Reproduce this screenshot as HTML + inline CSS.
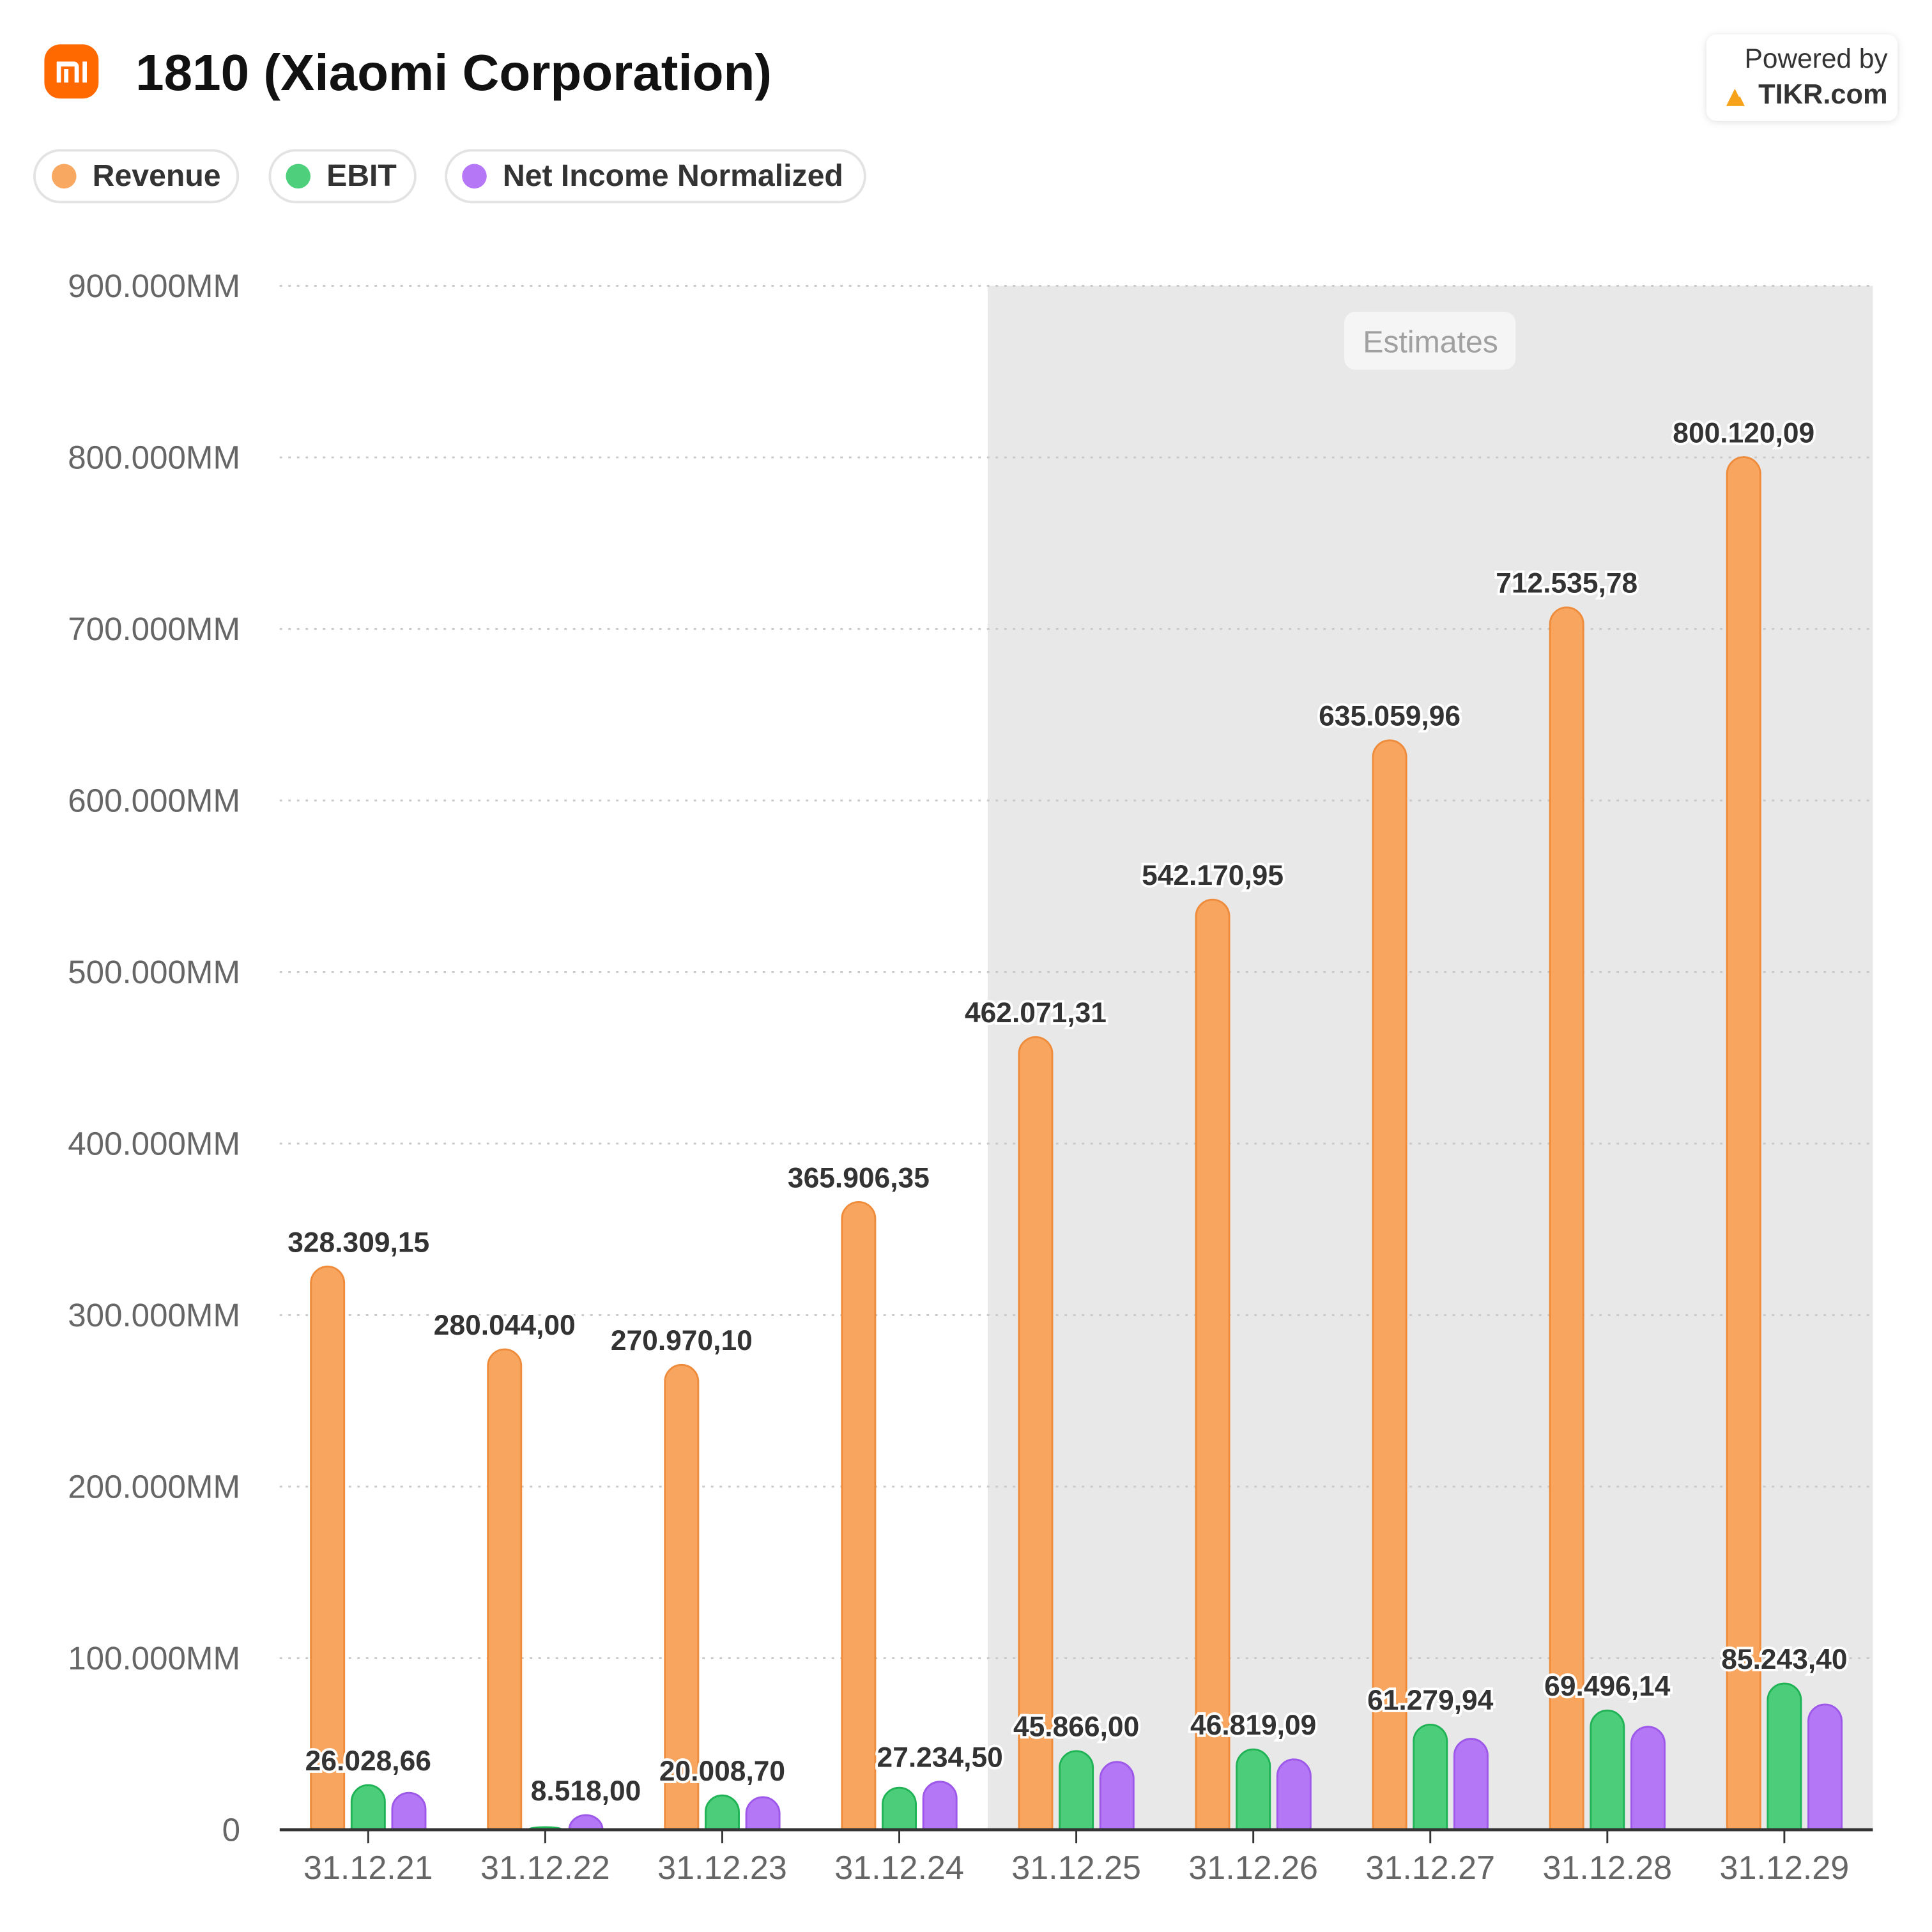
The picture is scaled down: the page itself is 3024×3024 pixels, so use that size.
<!DOCTYPE html>
<html><head><meta charset="utf-8"><style>
html,body{margin:0;padding:0;background:#fff;}
svg{display:block;font-family:"Liberation Sans",Arial,sans-serif;}
</style></head><body>
<svg id="chart" width="3024" height="3024" viewBox="0 0 1568 1568" xmlns="http://www.w3.org/2000/svg">
<defs><filter id="sh" x="-20%" y="-20%" width="140%" height="140%"><feDropShadow dx="0" dy="1" stdDeviation="3" flood-color="#000" flood-opacity="0.12"/></filter></defs>
<rect width="1568" height="1568" fill="#fff"/>
<g>
<rect x="36" y="36" width="44" height="44" rx="13" fill="#ff6900"/>
<path d="M46 50 h14 a4 4 0 0 1 4 4 v13 h-3.5 v-13 h-11 v13 h-3.5z M52 56 h3.5 v11 h-3.5z M67 50 h3.5 v17 h-3.5z" fill="#fff"/>
</g>
<text x="110" y="73" font-size="41.5" font-weight="bold" fill="#111">1810 (Xiaomi Corporation)</text>
<g>
<rect x="1385" y="28" width="155" height="70" rx="8" fill="#fff" filter="url(#sh)"/>
<text x="1532" y="55" font-size="22" fill="#333" text-anchor="end">Powered by</text>
<path d="M1401 86 l7 -14 l7 14 z M1408 86 l4 -8 l4 8z" fill="#f7a21b"/>
<text x="1532" y="84" font-size="22.5" font-weight="bold" fill="#333" text-anchor="end">TIKR.com</text>
</g>
<g>
<rect x="28" y="122" width="165" height="42" rx="21" fill="#fff" stroke="#e3e3e3" stroke-width="2"/>
<circle cx="52" cy="143" r="10" fill="#f9a862"/>
<text x="75" y="151" font-size="25" font-weight="bold" fill="#333">Revenue</text>
</g>
<g>
<rect x="219" y="122" width="118" height="42" rx="21" fill="#fff" stroke="#e3e3e3" stroke-width="2"/>
<circle cx="242" cy="143" r="10" fill="#4dcf7b"/>
<text x="265" y="151" font-size="25" font-weight="bold" fill="#333">EBIT</text>
</g>
<g>
<rect x="362" y="122" width="340" height="42" rx="21" fill="#fff" stroke="#e3e3e3" stroke-width="2"/>
<circle cx="385" cy="143" r="10" fill="#b577f6"/>
<text x="408" y="151" font-size="25" font-weight="bold" fill="#333">Net Income Normalized</text>
</g>
<g id="plot"></g>
</svg>
<script>
const categories=["31.12.21","31.12.22","31.12.23","31.12.24","31.12.25","31.12.26","31.12.27","31.12.28","31.12.29"];
const revenue=[328309.15,280044.00,270970.10,365906.35,462071.31,542170.95,635059.96,712535.78,800120.09];
const ebit=[26028.66,1500,20008.70,24500,45866.00,46819.09,61279.94,69496.14,85243.40];
const netIncome=[21500,8518.00,19000,28000,39500,41000,53000,60000,73000];
const revenueLabels=["328.309,15","280.044,00","270.970,10","365.906,35","462.071,31","542.170,95","635.059,96","712.535,78","800.120,09"];
const ebitLabels=["26.028,66","8.518,00","20.008,70","27.234,50","45.866,00","46.819,09","61.279,94","69.496,14","85.243,40"];
const yTicks=[0,100000,200000,300000,400000,500000,600000,700000,800000,900000];
const yTickLabels=["0","100.000MM","200.000MM","300.000MM","400.000MM","500.000MM","600.000MM","700.000MM","800.000MM","900.000MM"];
const estimateStart=4;

const NS="http://www.w3.org/2000/svg";
const g=document.getElementById('plot');
const X0=227,X1=1520,Y0=1485,Y1=232,YMAX=900000;
const band=(X1-X0)/categories.length;
const y=v=>Y0-(v/YMAX)*(Y0-Y1);
const xc=i=>X0+band*(i+0.5);
function el(t,a,p){const e=document.createElementNS(NS,t);for(const k in a)e.setAttribute(k,a[k]);(p||g).appendChild(e);return e;}

const shade=el('rect',{x:X0+band*estimateStart,y:Y1,width:X1-(X0+band*estimateStart),height:Y0-Y1,fill:'#e8e8e8'});


const eb=el('rect',{x:1091,y:253,width:139,height:47,rx:9,fill:'#f5f5f5'});


const et=el('text',{x:1161,y:286,'font-size':25,fill:'#a0a0a0','text-anchor':'middle'});
et.textContent='Estimates';



yTicks.forEach((v,i)=>{
  if(v>0){const l=el('line',{x1:X0,x2:X1,y1:y(v),y2:y(v),stroke:'#c8c8c8','stroke-width':1.5,'stroke-dasharray':'2 5'});
  
  }
  const t=el('text',{x:195,y:y(v)+9,'font-size':26.5,fill:'#666','text-anchor':'end'});
  t.textContent=yTickLabels[i];
  
  
});

function bar(cx,v,fill,stroke,name){
  const w=27,r=13.5,x=cx-w/2,top=y(v),h=Y0-top;
  let d;
  if(h>=r) d=`M${x} ${Y0} V${top+r} A${r} ${r} 0 0 1 ${x+w} ${top+r} V${Y0} Z`;
  else { const rr=Math.max(h,0.5); d=`M${x} ${Y0} A${w/2} ${rr} 0 0 1 ${x+w} ${Y0} Z`; }
  const p=el('path',{d:d,fill:fill,stroke:stroke,'stroke-width':1.5});
  
  
}
function label(cx,yy,txt,name){
  const hw=txt.length*6.4;
  if(cx-hw<X0) cx=X0+hw;
  const t=el('text',{x:cx,y:yy,'font-size':23,'font-weight':'bold',fill:'#333','text-anchor':'middle',stroke:'#fff','stroke-width':4,'paint-order':'stroke'});
  t.textContent=txt;
  
  
}
categories.forEach((c,i)=>{
  const cx=xc(i);
  bar(cx-33,revenue[i],'#f8a55f','#ef8c3c','bar-revenue');
  bar(cx,ebit[i],'#4ccd7a','#20b356','bar-ebit');
  bar(cx+33,netIncome[i],'#b477f5','#9d58ea','bar-net-income');
});
categories.forEach((c,i)=>{
  const cx=xc(i);
  label(cx-33,y(revenue[i])-12,revenueLabels[i],'revenue-value-label');
  const top=Math.max(ebit[i],netIncome[i]);
  const lx=ebit[i]>=netIncome[i]?cx:cx+33;
  label(lx,y(top)-12,ebitLabels[i],'ebit-value-label');
  const tk=el('line',{x1:cx,x2:cx,y1:Y0,y2:Y0+11,stroke:'#333','stroke-width':1.5});
  
  
  const t=el('text',{x:cx,y:Y0+40,'font-size':27,fill:'#666','text-anchor':'middle'});
  t.textContent=c;
  
  
});
const ax=el('line',{x1:X0,x2:X1,y1:Y0,y2:Y0,stroke:'#333','stroke-width':2.5});


</script>
</body></html>
